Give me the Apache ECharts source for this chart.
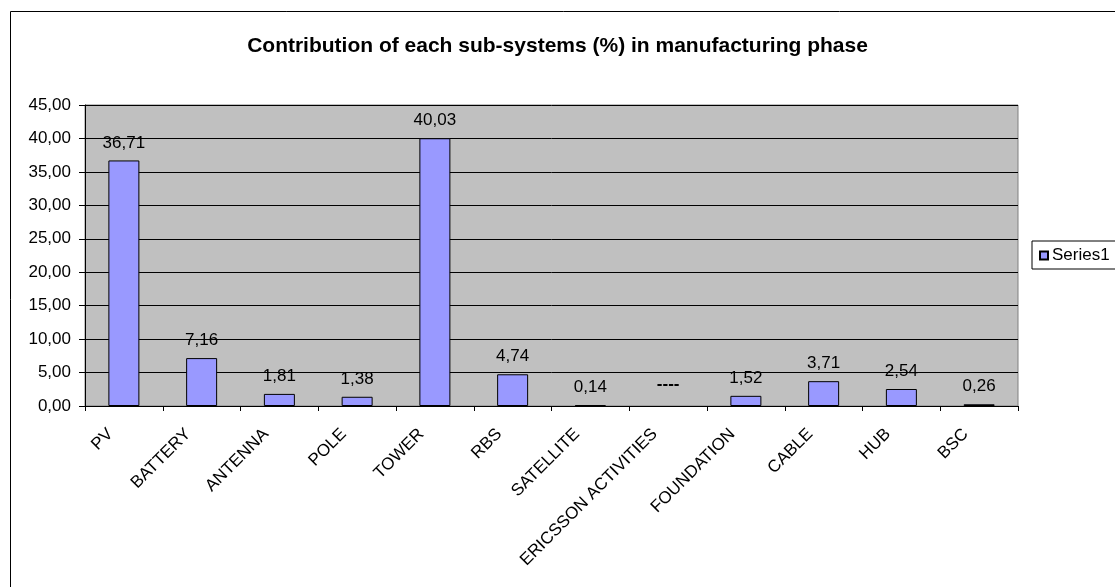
<!DOCTYPE html>
<html>
<head>
<meta charset="utf-8">
<style>
html,body{margin:0;padding:0;background:#fff;}
#chart{width:1115px;height:587px;}
</style>
<script src="https://cdn.jsdelivr.net/npm/echarts@6/dist/echarts.min.js"></script>
</head>
<body>
<div id="chart"></div>
<script>
const categories = ['PV','BATTERY','ANTENNA','POLE','TOWER','RBS','SATELLITE','ERICSSON ACTIVITIES','FOUNDATION','CABLE','HUB','BSC'];
const values = [36.71, 7.16, 1.81, 1.38, 40.03, 4.74, 0.14, null, 1.52, 3.71, 2.54, 0.26];
const seriesName = 'Series1';
const titleText = 'Contribution of each sub-systems (%) in manufacturing phase';
const missingLabel = '----';

const fmt = v => v.toFixed(2).replace('.', ',');
const font = 'Arial, "Liberation Sans", sans-serif';

const chart = echarts.init(document.getElementById('chart'), null, {renderer:'canvas'});
const data = values.map(v => v === null ? {
  value: 0,
  itemStyle: {borderWidth: 0, color: 'transparent'},
  label: {show: true, formatter: missingLabel, fontWeight: 'bold', distance: 13}
} : v);

chart.setOption({
  animation: false,
  title: {
    text: titleText, left: 'center', top: 31,
    textStyle: {fontFamily: font, fontSize: 21, fontWeight: 'bold', color: '#000'}
  },
  legend: {
    data: [seriesName], left: 1032, top: 241, orient: 'vertical',
    padding: [6, 10, 5, 7], itemWidth: 8, itemHeight: 8, itemGap: 4,
    borderColor: '#000', borderWidth: 1, backgroundColor: '#fff',
    icon: 'rect',
    textStyle: {fontFamily: font, fontSize: 17, color: '#000', padding: [0,0,0,-1]}
  },
  graphic: [{
    type: 'rect', z: -1, silent: true,
    shape: {x: 10.5, y: 11.5, width: 1120, height: 600},
    style: {fill: 'none', stroke: '#000', lineWidth: 1}
  }],
  grid: {left: 85, top: 105, right: 97, bottom: 181, show: true,
    backgroundColor: '#C0C0C0', borderColor: '#808080', borderWidth: 1},
  xAxis: {
    type: 'category', data: categories,
    axisLine: {lineStyle: {color: '#000', width: 1}},
    axisTick: {show: true, length: 5, lineStyle: {color: '#000'}},
    axisLabel: {rotate: 45, interval: 0, margin: 12, color: '#000',
      fontFamily: font, fontSize: 17, padding: [0, 19, 0, 0]}
  },
  yAxis: {
    type: 'value', min: 0, max: 45, interval: 5,
    axisLine: {show: true, lineStyle: {color: '#000', width: 1}},
    axisTick: {show: true, length: 6, lineStyle: {color: '#000'}},
    splitLine: {show: true, lineStyle: {color: '#000', width: 1}},
    axisLabel: {formatter: v => fmt(v), color: '#000', fontFamily: font, fontSize: 17, margin: 14}
  },
  series: [{
    name: seriesName, type: 'bar', data: data, barWidth: 31,
    itemStyle: {color: '#9999FF', borderColor: '#000', borderWidth: 1},
    label: {show: true, position: 'top', distance: 9, color: '#000',
      fontFamily: font, fontSize: 17,
      formatter: p => p.data && p.data.label ? missingLabel : fmt(p.value)}
  }]
});
</script>
</body>
</html>
